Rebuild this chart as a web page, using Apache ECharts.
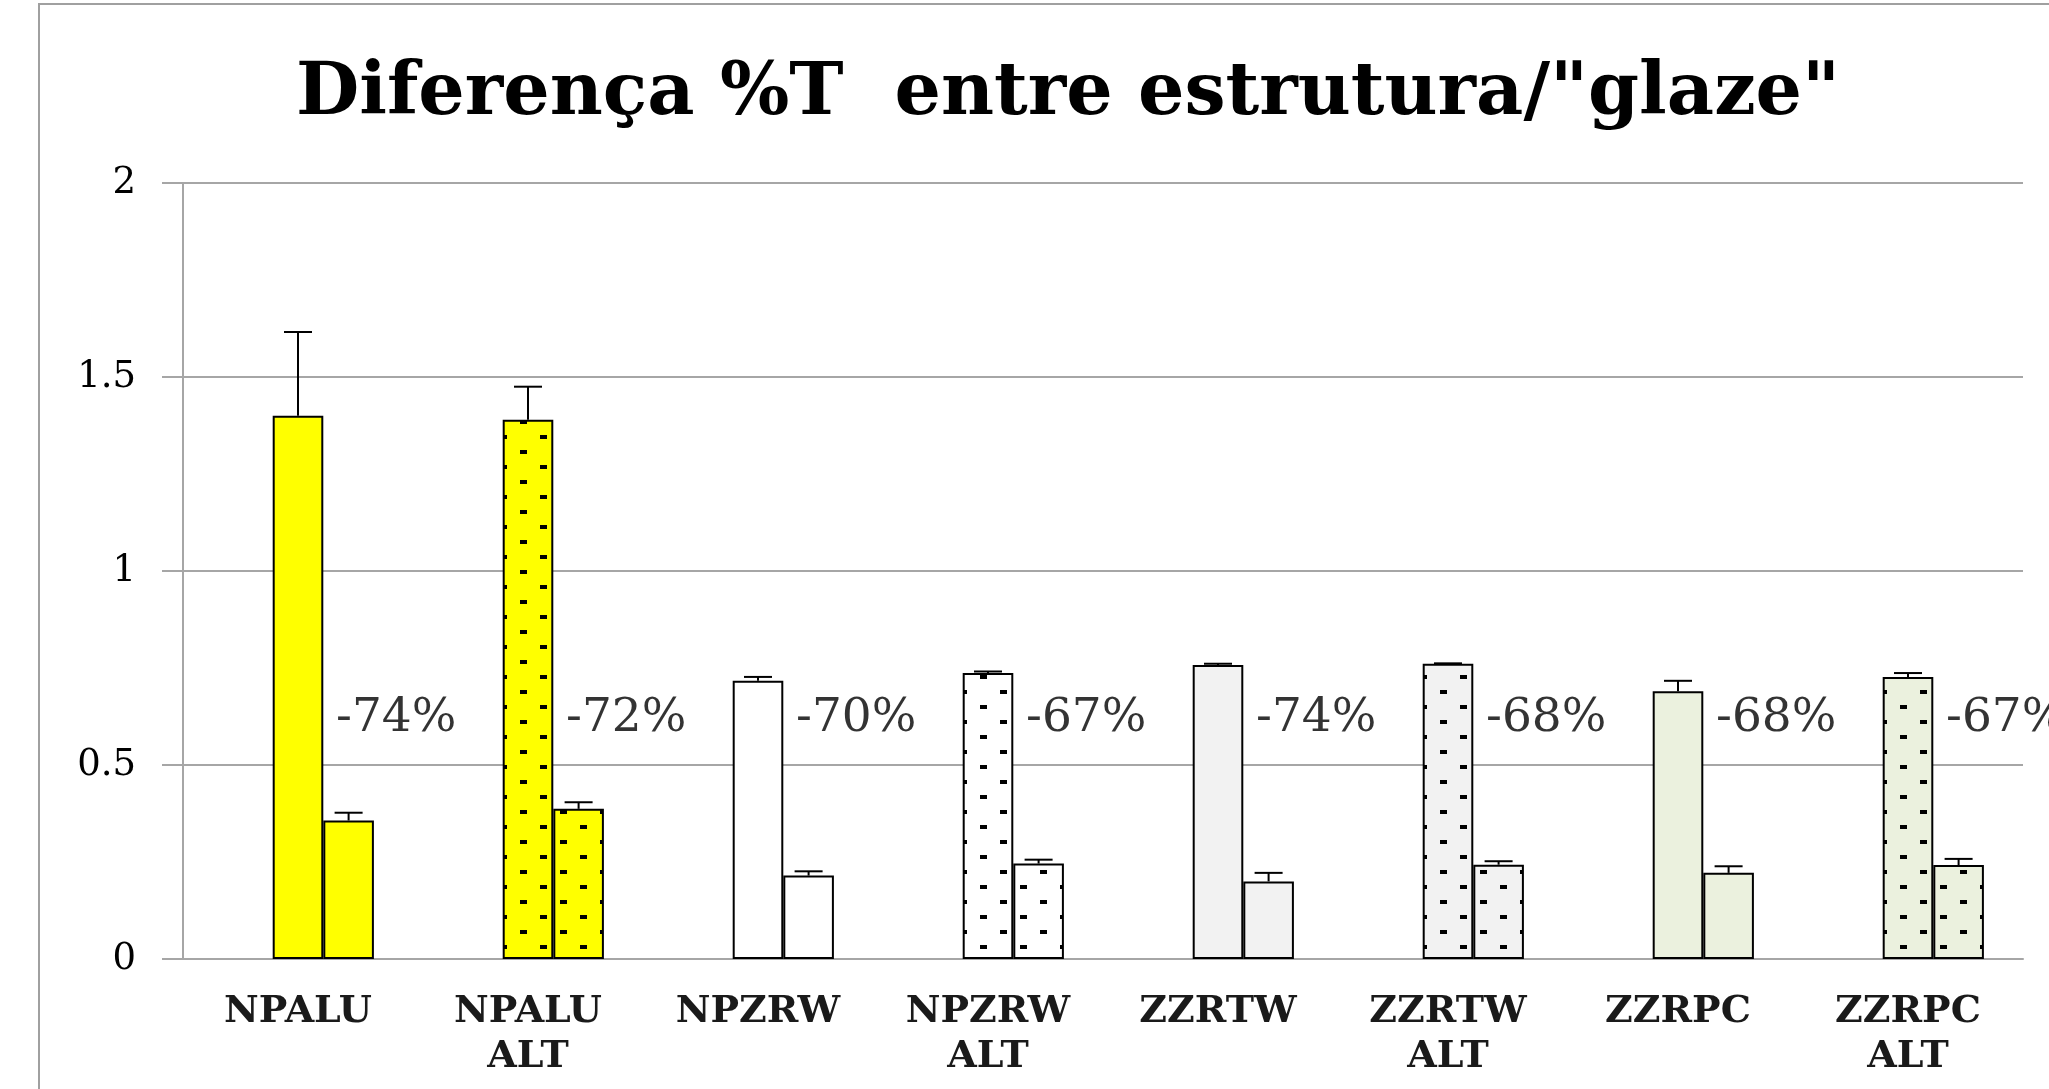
<!DOCTYPE html>
<html>
<head>
<meta charset="utf-8">
<title>Diferença %T entre estrutura/glaze</title>
<script src="https://cdn.jsdelivr.net/npm/echarts@6.0.0/dist/echarts.min.js"></script>
<style>
  html, body { margin: 0; padding: 0; background: #fff; }
  #chart { width: 2049px; height: 1089px; }
</style>
</head>
<body>
<div id="chart"></div>
<script>
// dados
const categories = ['NPALU', 'NPALU\nALT', 'NPZRW', 'NPZRW\nALT', 'ZZRTW', 'ZZRTW\nALT', 'ZZRPC', 'ZZRPC\nALT'];
const estrutura = [1.40, 1.39, 0.717, 0.737, 0.758, 0.761, 0.69, 0.727];
const estruturaErr = [1.616, 1.475, 0.727, 0.741, 0.761, 0.762, 0.717, 0.737];
const glaze = [0.357, 0.387, 0.215, 0.246, 0.200, 0.243, 0.222, 0.242];
const glazeErr = [0.377, 0.404, 0.226, 0.256, 0.222, 0.252, 0.239, 0.258];
const diffLabels = ['-74%', '-72%', '-70%', '-67%', '-74%', '-68%', '-68%', '-67%'];
const fills = ['#ffff00', '#ffff00', '#ffffff', '#ffffff', '#f2f2f2', '#f2f2f2', '#ebf1de', '#ebf1de'];
const dotted = [false, true, false, true, false, true, false, true];

const gap = 0.34;
const labelLevel = 0.62;
const gridColor = '#a6a6a6';

function dots(bg) {
  const c = document.createElement('canvas');
  c.width = 40;
  c.height = 30;
  const ctx = c.getContext('2d');
  ctx.fillStyle = bg;
  ctx.fillRect(0, 0, 40, 30);
  ctx.fillStyle = '#000';
  ctx.fillRect(0, 0, 7, 4);
  ctx.fillRect(20, 15, 7, 4);
  return c;
}

function barItems(values) {
  return values.map((v, i) => ({
    value: v,
    itemStyle: { color: dotted[i] ? { image: dots(fills[i]), repeat: 'repeat' } : fills[i] }
  }));
}

// [categoria, valor, topo do erro, posição da barra]
const errData = [];
estrutura.forEach((v, i) => errData.push([i, v, estruturaErr[i], 1]));
glaze.forEach((v, i) => errData.push([i, v, glazeErr[i], 2]));

function errorBar(params, api) {
  const band = api.size([1, 0])[0];
  const barW = band * (1 - gap) / 3;
  const base = api.coord([api.value(0), api.value(1)]);
  const top = api.coord([api.value(0), api.value(2)]);
  const x = base[0] + (api.value(3) - 1) * barW;
  const st = { stroke: '#000', lineWidth: 2 };
  return {
    type: 'group',
    children: [
      { type: 'line', shape: { x1: x, y1: base[1], x2: x, y2: top[1] }, style: st },
      { type: 'line', shape: { x1: x - 14, y1: top[1], x2: x + 14, y2: top[1] }, style: st }
    ]
  };
}

const chart = echarts.init(document.getElementById('chart'));
chart.setOption({
  animation: false,
  backgroundColor: '#fff',
  title: {
    text: 'Diferença %T  entre estrutura/"glaze"',
    left: 1063,
    top: 54,
    textAlign: 'center',
    textStyle: { fontFamily: 'DejaVu Serif', fontWeight: 'bold', fontSize: 73, color: '#000' }
  },
  graphic: [{
    type: 'rect',
    shape: { x: 39, y: 4, width: 2100, height: 1200 },
    style: { fill: 'none', stroke: '#a0a0a0', lineWidth: 2 },
    z: -10
  }],
  grid: { left: 183, right: 26, top: 183, bottom: 130 },
  xAxis: {
    type: 'category',
    data: categories,
    axisLine: { lineStyle: { color: gridColor, width: 2 } },
    axisTick: { length: 12, lineStyle: { color: gridColor, width: 2 } },
    axisLabel: {
      interval: 0,
      margin: 31,
      fontFamily: 'DejaVu Serif',
      fontWeight: 'bold',
      fontSize: 38,
      lineHeight: 45,
      color: '#1a1a1a'
    }
  },
  yAxis: {
    type: 'value',
    min: 0,
    max: 2,
    interval: 0.5,
    axisLine: { show: true, lineStyle: { color: gridColor, width: 2 } },
    axisTick: { show: true, length: 21, lineStyle: { color: gridColor, width: 2 } },
    splitLine: { lineStyle: { color: gridColor, width: 2 } },
    axisLabel: { margin: 47, fontFamily: 'DejaVu Serif', fontSize: 37, color: '#000' }
  },
  series: [
    { type: 'bar', name: 'oculta', data: categories.map(() => '-'), barGap: 0, barCategoryGap: (gap * 100) + '%' },
    {
      type: 'bar',
      name: 'estrutura',
      data: barItems(estrutura),
      barGap: 0,
      barCategoryGap: (gap * 100) + '%',
      itemStyle: { borderColor: '#000', borderWidth: 2 }
    },
    {
      type: 'bar',
      name: 'glaze',
      data: barItems(glaze),
      barGap: 0,
      barCategoryGap: (gap * 100) + '%',
      itemStyle: { borderColor: '#000', borderWidth: 2 }
    },
    {
      type: 'custom',
      name: 'erro',
      renderItem: errorBar,
      encode: { x: 0, y: [1, 2] },
      data: errData,
      z: 5
    },
    {
      type: 'scatter',
      name: 'diferenca',
      symbol: 'circle',
      symbolSize: 0,
      data: categories.map((c, i) => [i, labelLevel]),
      label: {
        show: true,
        position: 'right',
        distance: 38,
        formatter: p => diffLabels[p.dataIndex],
        fontFamily: 'DejaVu Serif',
        fontSize: 47,
        color: '#000'
      },
      z: 6
    }
  ]
});
</script>
</body>
</html>
